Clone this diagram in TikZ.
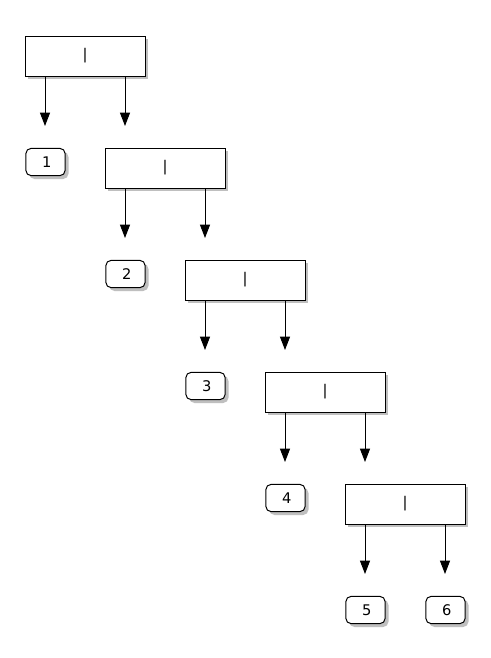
\documentclass[tikz,border=0pt]{standalone}
\usepackage{fontspec}
\setmainfont{DejaVu Sans}
\usetikzlibrary{arrows.meta,shadows}
\begin{document}
\begin{tikzpicture}[x=0.75pt,y=-0.75pt,
  every node/.style={font=\fontsize{11}{13}\selectfont},
  boxnode/.style={draw=black, fill=white, line width=0.75pt, minimum width=90pt, minimum height=30pt, inner sep=0pt,
    general shadow={fill=black!25, shadow xshift=2.5pt, shadow yshift=-2.5pt}},
  numnode/.style={draw=black, fill=white, line width=0.75pt, rounded corners=4pt, minimum width=29.5pt, minimum height=20.5pt, inner sep=0pt,
    text depth=0pt, general shadow={fill=black!25, shadow xshift=2.5pt, shadow yshift=-2.5pt}},
  conn/.style={draw=black, line width=0.75pt, -{Triangle[length=10pt,width=7.5pt]}}]
\useasboundingbox (0,0) rectangle (490,658);
\fill[white] (0,0) rectangle (490,658);
\foreach \i in {0,...,4} {
  \node[boxnode] (b\i) at ({85+80*\i},{56+112*\i}) {|};
  \coordinate (l\i) at ({45+80*\i},{126+112*\i});
  \coordinate (r\i) at ({125+80*\i},{126+112*\i});
  \draw[conn] (b\i.south -| l\i) -- (l\i);
  \draw[conn] (b\i.south -| r\i) -- (r\i);
}
\foreach \i/\t in {0/1,1/2,2/3,3/4,4/5} {
  \node[numnode] (n\t) at ({45.5+80*\i},{162+112*\i}) {\hspace{2pt}\t};
}
\node[numnode] (n6) at (445.5,610) {\hspace{2pt}6};
\end{tikzpicture}
\end{document}
